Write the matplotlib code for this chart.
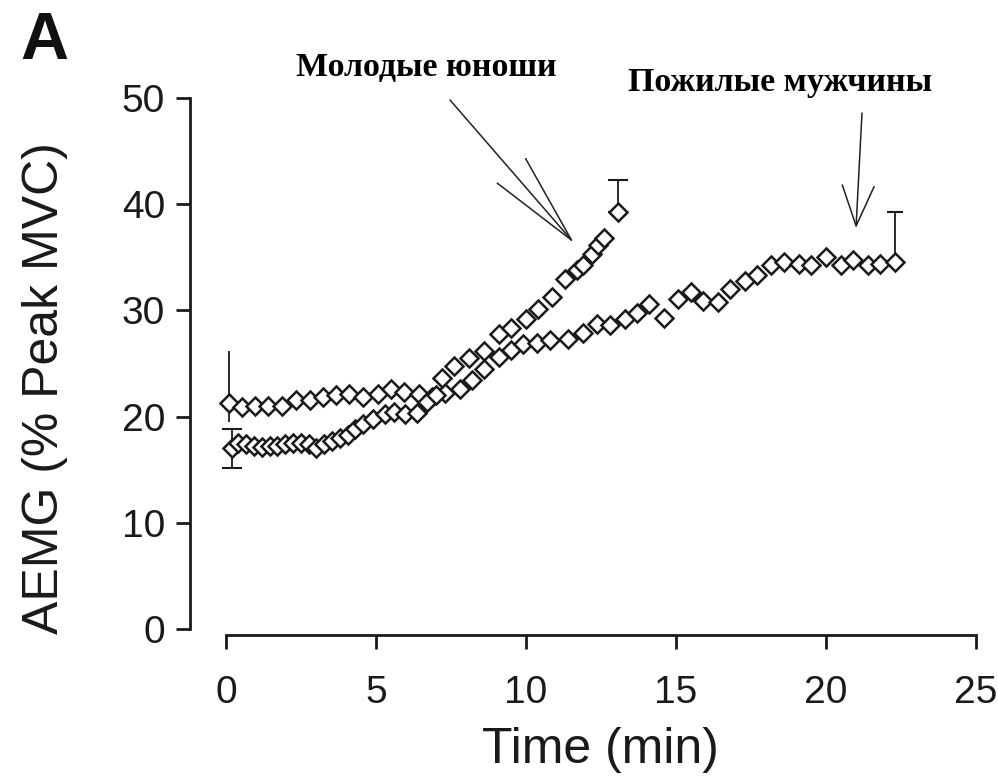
import matplotlib
matplotlib.use("Agg")
import matplotlib.pyplot as plt
from matplotlib import font_manager

# ---------------- data ----------------
young_t = [0.2, 0.41, 0.67, 0.93, 1.19, 1.45, 1.71, 1.97, 2.23, 2.49, 2.75, 3.01,
           3.27, 3.53, 3.79, 4.05, 4.31, 4.57, 4.9, 5.3, 5.6, 5.95, 6.35, 6.7,
           7.0, 7.2, 7.6, 8.1, 8.6, 9.1, 9.5, 10.0, 10.4, 10.85, 11.3, 11.7,
           11.9, 12.2, 12.4, 12.6, 13.05]
young_v = [17.0, 17.5, 17.4, 17.2, 17.1, 17.2, 17.2, 17.4, 17.5, 17.5, 17.4, 17.0,
           17.4, 17.7, 18.0, 18.3, 18.8, 19.3, 19.8, 20.2, 20.4, 20.2, 20.3, 21.4,
           22.0, 23.6, 24.8, 25.5, 26.2, 27.8, 28.3, 29.2, 30.1, 31.3, 33.0, 33.8,
           34.3, 35.3, 36.2, 36.8, 39.3]

old_t = [0.1, 0.52, 0.96, 1.4, 1.85, 2.34, 2.79, 3.23, 3.67, 4.11, 4.55, 5.05,
         5.49, 5.94, 6.43, 6.87, 7.3, 7.8, 8.2, 8.6, 9.1, 9.5, 9.9, 10.35, 10.8,
         11.4, 11.9, 12.35, 12.8, 13.3, 13.7, 14.1, 14.6, 15.05, 15.5, 15.9, 16.4,
         16.8, 17.3, 17.7, 18.15, 18.6, 19.1, 19.5, 20.0, 20.5, 20.9, 21.4, 21.8, 22.3]
old_v = [21.3, 20.9, 21.0, 21.0, 21.0, 21.6, 21.6, 21.8, 22.0, 22.1, 21.8, 22.1,
         22.6, 22.3, 22.1, 21.8, 22.2, 22.6, 23.4, 24.5, 25.6, 26.3, 26.8, 26.9, 27.2,
         27.3, 27.9, 28.7, 28.6, 29.2, 29.8, 30.6, 29.3, 31.1, 31.7, 30.9, 30.8,
         32.0, 32.8, 33.3, 34.3, 34.6, 34.4, 34.3, 35.0, 34.3, 34.7, 34.3, 34.4, 34.6]

# error bars (start / end points): (down, up)
young_err_first = (1.8, 1.8)
young_err_last = (0.0, 3.0)
old_err_first = (1.8, 4.9)
old_err_last = (0.0, 4.7)

x_ticks = [0, 5, 10, 15, 20, 25]
y_ticks = [0, 10, 20, 30, 40, 50]
x_label = "Time (min)"
y_label = "AEMG (% Peak MVC)"
panel_label = "A"
label_young = "Молодые юноши"
label_old = "Пожилые мужчины"

# ---------------- fonts ----------------
names = {f.name for f in font_manager.fontManager.ttflist}
sans = "Liberation Sans" if "Liberation Sans" in names else "DejaVu Sans"
serif = "Liberation Serif" if "Liberation Serif" in names else "DejaVu Serif"
plt.rcParams["font.family"] = [sans, "DejaVu Sans"]

W, H = 998, 784
fig = plt.figure(figsize=(W / 100, H / 100), dpi=100)
ax = fig.add_axes([226 / W, 1 - 629 / H, (976 - 226) / W, (629 - 98) / H])

ink = "#1a1a1a"
mk = dict(marker="D", markersize=9.0, markerfacecolor="white",
          markeredgecolor=ink, markeredgewidth=1.8, linestyle="none",
          clip_on=False)

# old series
ax.errorbar([old_t[0]], [old_v[0]], yerr=[[old_err_first[0]], [old_err_first[1]]],
            fmt="none", ecolor=ink, elinewidth=1.3, capsize=0, clip_on=False, zorder=1)
ax.errorbar([old_t[-1]], [old_v[-1]], yerr=[[old_err_last[0]], [old_err_last[1]]],
            fmt="none", ecolor=ink, elinewidth=1.3, capsize=6, capthick=1.5,
            clip_on=False, zorder=1)
ax.plot(old_t, old_v, zorder=2, **mk)

# young series
ax.errorbar([young_t[0]], [young_v[0]], yerr=[[young_err_first[0]], [young_err_first[1]]],
            fmt="none", ecolor=ink, elinewidth=1.3, capsize=7, capthick=1.5,
            clip_on=False, zorder=3)
ax.errorbar([young_t[-1]], [young_v[-1]], yerr=[[young_err_last[0]], [young_err_last[1]]],
            fmt="none", ecolor=ink, elinewidth=1.3, capsize=7, capthick=1.5,
            clip_on=False, zorder=3)
ax.plot(young_t, young_v, zorder=4, **mk)

ax.set_xlim(0, 25)
ax.set_ylim(0, 50)
ax.set_xticks(x_ticks)
ax.set_yticks(y_ticks)
ax.set_xticklabels([str(v) for v in x_ticks])
ax.set_yticklabels([str(v) for v in y_ticks])

for s in ["top", "right"]:
    ax.spines[s].set_visible(False)
ax.spines["left"].set_position(("outward", 26))
ax.spines["bottom"].set_position(("outward", 4))
ax.spines["left"].set_bounds(0, 50)
ax.spines["bottom"].set_bounds(0, 25)
for s in ["left", "bottom"]:
    ax.spines[s].set_linewidth(2.0)
    ax.spines[s].set_color(ink)

ax.tick_params(axis="y", direction="out", length=10, width=2.0, pad=8,
               labelsize=28, colors=ink)
ax.tick_params(axis="x", direction="out", length=10, width=2.0, pad=19,
               labelsize=28, colors=ink)
ax.patch.set_alpha(0)

fig.text(600 / W, 1 - 750 / H, x_label, ha="center", va="center", fontsize=36, color=ink)
fig.text(45 / W, 1 - 388 / H, y_label, ha="center", va="center", rotation=90,
         fontsize=36, color=ink)
fig.text(20 / W, 1 - 42 / H, panel_label, ha="left", va="center", fontsize=48,
         fontweight="bold", color="#111111")

serif_fam = [serif, "DejaVu Serif"]
fig.text(296 / W, 1 - 68 / H, label_young, ha="left", va="center", fontsize=24.5,
         fontweight="bold", family=serif_fam)
fig.text(628 / W, 1 - 83 / H, label_old, ha="left", va="center", fontsize=24.5,
         fontweight="bold", family=serif_fam)

def fpx(x, y):
    return (x / W, 1 - y / H)

ax.annotate("", xy=fpx(574, 243), xytext=fpx(450, 100), xycoords="figure fraction",
            textcoords="figure fraction",
            arrowprops=dict(arrowstyle="->,head_length=6.6,head_width=1.35",
                            mutation_scale=10, lw=1.1, color="#222222",
                            shrinkA=0, shrinkB=0))
ax.annotate("", xy=fpx(856, 228), xytext=fpx(862, 113), xycoords="figure fraction",
            textcoords="figure fraction",
            arrowprops=dict(arrowstyle="->,head_length=2.9,head_width=1.15",
                            mutation_scale=10, lw=1.1, color="#222222",
                            shrinkA=0, shrinkB=0))

fig.savefig("out.png", dpi=100, facecolor="white")
